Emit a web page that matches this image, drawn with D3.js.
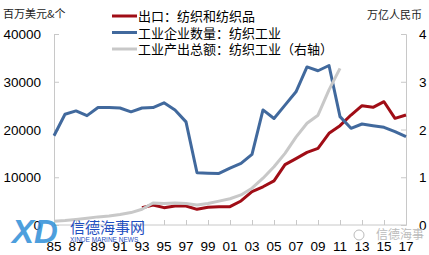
<!DOCTYPE html>
<html>
<head>
<meta charset="utf-8">
<title>纺织工业</title>
<script src="https://cdn.jsdelivr.net/npm/d3@7"></script>
<style>
  body { margin: 0; background: #fff; }
  svg { display: block; }
  text { font-family: "Liberation Sans", Arial, sans-serif; }
  .cn { font-family: "Noto Sans CJK SC", sans-serif; }
</style>
</head>
<body>
<svg id="chart" width="429" height="255"></svg>
<script>
// years 1985..2017
const years = d3.range(1985, 2018);
const xTickLabels = ["85","87","89","91","93","95","97","99","01","03","05","07","09","11","13","15","17"];
const leftTicks = [0, 10000, 20000, 30000, 40000];
const rightTicks = [0, 1, 2, 3, 4];

// 出口：纺织和纺织品 (百万美元), starts 1993
const exportYears = d3.range(1993, 2018);
const exportVals = [3600, 4190, 3630, 3980, 3980, 3280, 3700, 3840, 3840, 5030, 7000, 8000, 9250,
  12650, 13900, 15200, 16060, 19200, 20800, 23030, 24980, 24640, 25820, 22340, 23030];

// 工业企业数量：纺织工业 (个)
const firmVals = [18700, 23200, 23900, 22900, 24600, 24600, 24500, 23700, 24500, 24600, 25600, 24100,
  21600, 10950, 10850, 10800, 11900, 12900, 14800, 24100, 22300, 25100, 27900, 33100, 32300, 33400,
  22700, 20250, 21150, 20800, 20450, 19550, 18500];

// 工业产出总额：纺织工业 (万亿人民币, 右轴), 1985..2011
const outputYears = d3.range(1985, 2012);
const outputVals = [0.08, 0.094, 0.115, 0.14, 0.17, 0.19, 0.22, 0.26, 0.33, 0.46, 0.45, 0.46, 0.45,
  0.42, 0.45, 0.5, 0.55, 0.63, 0.77, 0.98, 1.22, 1.5, 1.84, 2.13, 2.3, 2.83, 3.28];

const legendNames = ["出口：纺织和纺织品", "工业企业数量：纺织工业", "工业产出总额：纺织工业（右轴）"];
const colors = ["#a00d16", "#41699d", "#c8c8c8"];

const svg = d3.select("#chart");

const x = d3.scalePoint().domain(years).range([54, 406]);
const yL = d3.scaleLinear().domain([0, 40000]).range([225, 34]);
const yR = d3.scaleLinear().domain([0, 4]).range([225, 34]);

// axes
const axisColor = "#c8c8c8";
const gLeft = svg.append("g").attr("transform", "translate(54,0)")
  .call(d3.axisRight(yL).tickValues(leftTicks).tickSize(5).tickFormat(""));
const gRight = svg.append("g").attr("transform", "translate(406,0)")
  .call(d3.axisLeft(yR).tickValues(rightTicks).tickSize(5).tickFormat(""));
const gBottom = svg.append("g").attr("transform", "translate(0,225)")
  .call(d3.axisTop(x).tickValues(years.filter(d => (d - 1985) % 2 == 0)).tickSize(5).tickFormat(""));
[gLeft, gRight, gBottom].forEach(g => {
  g.selectAll("path.domain").attr("stroke", axisColor);
  g.selectAll(".tick line").attr("stroke", axisColor);
});
gBottom.select("path.domain").attr("d", "M54,0H406");

// tick labels
svg.append("g").selectAll("text").data(leftTicks).enter().append("text")
  .attr("x", 41).attr("y", d => yL(d) + 5)
  .attr("text-anchor", "end").attr("font-size", 13.5).attr("fill", "#000")
  .text(d => d);
svg.append("g").selectAll("text").data(rightTicks).enter().append("text")
  .attr("x", 419).attr("y", d => yR(d) + 5)
  .attr("font-size", 13.5).attr("fill", "#000")
  .text(d => d);
svg.append("g").selectAll("text").data(xTickLabels).enter().append("text")
  .attr("x", (d, i) => x(1985 + i * 2)).attr("y", 251)
  .attr("text-anchor", "middle").attr("font-size", 13.5).attr("fill", "#000")
  .text(d => d);

// unit titles
svg.append("text").attr("class", "cn").attr("x", 3).attr("y", 18)
  .attr("font-size", 11).attr("fill", "#222").text("百万美元&个");
svg.append("text").attr("class", "cn").attr("x", 367).attr("y", 19)
  .attr("font-size", 11).attr("fill", "#222").text("万亿人民币");

// lines
const lineL = d3.line().x(d => x(d[0])).y(d => yL(d[1]));
const lineR = d3.line().x(d => x(d[0])).y(d => yR(d[1]));

svg.append("path").datum(d3.zip(exportYears, exportVals))
  .attr("d", lineL).attr("fill", "none").attr("stroke", colors[0]).attr("stroke-width", 3)
  .attr("stroke-linejoin", "round");
svg.append("path").datum(d3.zip(years, firmVals))
  .attr("d", lineL).attr("fill", "none").attr("stroke", colors[1]).attr("stroke-width", 3)
  .attr("stroke-linejoin", "round");
svg.append("path").datum(d3.zip(outputYears, outputVals))
  .attr("d", lineR).attr("fill", "none").attr("stroke", colors[2]).attr("stroke-width", 3)
  .attr("stroke-linejoin", "round");

// legend
const leg = svg.append("g").selectAll("g").data(legendNames).enter().append("g")
  .attr("transform", (d, i) => "translate(112," + (16 + i * 16.5) + ")");
leg.append("line").attr("x1", 0).attr("x2", 25).attr("y1", 0).attr("y2", 0)
  .attr("stroke", (d, i) => colors[i]).attr("stroke-width", 3);
leg.append("text").attr("class", "cn").attr("x", 26).attr("y", 5)
  .attr("font-size", 13).attr("fill", "#000").text(d => d);

// watermark (sits over the bottom-left of the chart, like the source)
const wm = svg.append("g");
wm.append("text").attr("x", 12).attr("y", 243).attr("font-size", 33).attr("font-weight", "bold")
  .attr("font-style", "italic").attr("fill", "#2f8fd8").attr("opacity", 0.85).text("XD");
wm.append("text").attr("class", "cn").attr("x", 70).attr("y", 233).attr("font-size", 15)
  .attr("fill", "#1f4fc0").text("信德海事网");
wm.append("text").attr("x", 70).attr("y", 242).attr("font-size", 6.5)
  .attr("fill", "#1f4fc0").text("XINDE MARINE NEWS");
wm.append("circle").attr("cx", 359).attr("cy", 235).attr("r", 5)
  .attr("fill", "none").attr("stroke", "#bbb").attr("stroke-width", 1);
wm.append("text").attr("class", "cn").attr("x", 376).attr("y", 239).attr("font-size", 12)
  .attr("fill", "#bbb").text("信德海事");
</script>
</body>
</html>
